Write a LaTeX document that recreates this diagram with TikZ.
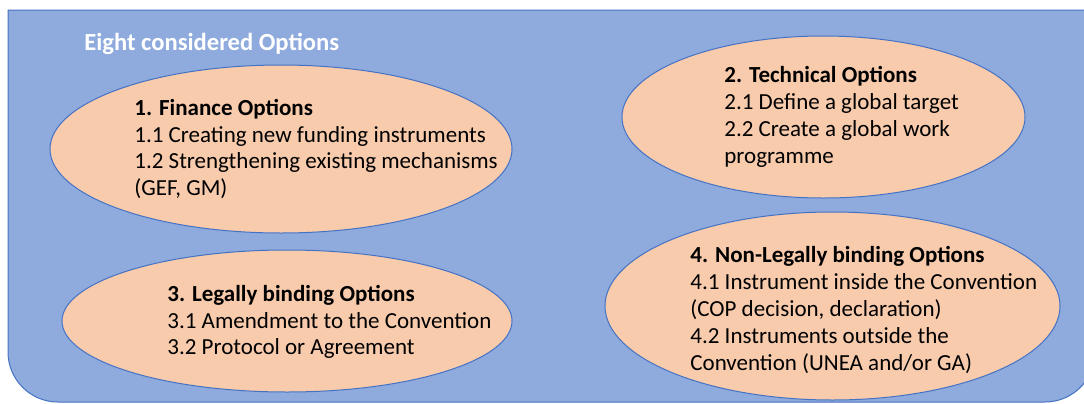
\documentclass[tikz,border=0pt]{standalone}
\usepackage{fontspec}
\setmainfont{Carlito}
\usetikzlibrary{shapes.geometric}
\definecolor{panelblue}{HTML}{8FAADC}
\definecolor{lineblue}{HTML}{4472C4}
\definecolor{optpeach}{HTML}{F8CBAD}
\begin{document}
\begin{tikzpicture}[
        x=0.5pt, y=-0.5pt,
        option/.style={ellipse, draw=lineblue, fill=optpeach, line width=0.5pt, inner sep=0pt},
        txt/.style={anchor=west, align=left, inner sep=0pt, font=\fontsize{11.5}{13.4}\selectfont}
    ]
        \useasboundingbox (0,0) rectangle (1084,403);
        \clip (0,0) rectangle (1084,403);
        \draw[draw=lineblue, fill=panelblue, line width=0.5pt] (8,10) -- (1095,10) {[rounded corners=25pt] -- (1095,402) -- (8,402)} -- cycle;
        \node[anchor=west, inner sep=0pt, text=white, font=\fontsize{12.3}{14}\selectfont\bfseries] (title) at (84,44) {Eight considered Options};

        \node[option, minimum width=231pt, minimum height=84pt] (finance) at (281,149) {};
        \node[option, minimum width=201.5pt, minimum height=81pt] (technical) at (823.5,117) {};
        \node[option, minimum width=225pt, minimum height=71pt] (legal) at (287,321) {};
        \node[option, minimum width=227.5pt, minimum height=94pt] (nonlegal) at (832.5,306) {};

        \node[txt] (financetxt) at (134,149) {\textbf{1. Finance Options}\\1.1 Creating new funding instruments\\1.2 Strengthening existing mechanisms\\(GEF, GM)};
        \node[txt] (technicaltxt) at (724,117) {\textbf{2. Technical Options}\\2.1 Define a global target\\2.2 Create a global work\\programme};
        \node[txt] (legaltxt) at (167,322) {\textbf{3. Legally binding Options}\\3.1 Amendment to the Convention\\3.2 Protocol or Agreement};
        \node[txt] (nonlegaltxt) at (690,310) {\textbf{4. Non-Legally binding Options}\\4.1 Instrument inside the Convention\\(COP decision, declaration)\\4.2 Instruments outside the\\Convention (UNEA and/or GA)};
    \end{tikzpicture}
\end{document}
